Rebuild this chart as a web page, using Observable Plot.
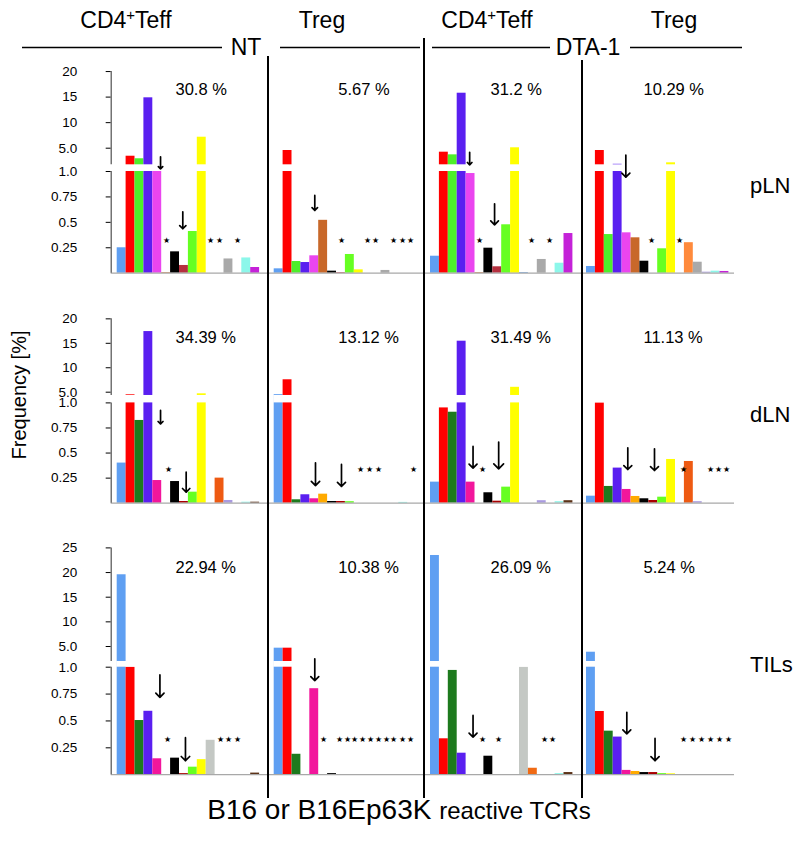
<!DOCTYPE html>
<html><head><meta charset="utf-8">
<script src="https://cdn.jsdelivr.net/npm/d3@7"></script>
<script src="https://cdn.jsdelivr.net/npm/@observablehq/plot@0.6"></script>
<style>
body{margin:0;background:#fff;}
#fig{position:relative;width:798px;height:849px;overflow:hidden;background:#fff;font-family:"Liberation Sans",Arial,sans-serif;}
</style></head>
<body><div id="fig"></div>
<script>
// ---------------- DATA ----------------
const groups = ["NT", "DTA-1"];
const cellTypes = ["CD4", "Treg", "CD4", "Treg"];
const tissues = ["pLN", "dLN", "TILs"];
const yTitle = "Frequency [%]";
const footerBig = "B16 or B16Ep63K";
const footerSmall = "reactive TCRs";

// frequency (%) of the 16 TCR clones, per panel
const pLN_NT_Teff  = [0.25, 3.43, 2.93, 14.86, 1.0, 0.006, 0.21, 0.076, 0.41, 7.15, 0, 0, 0.14, 0, 0.15, 0.056];
const pLN_NT_Treg  = [0.043, 4.55, 0.115, 0.105, 0.171, 0.52, 0.02, 0.006, 0.184, 0.033, 0, 0, 0.027, 0, 0, 0];
const pLN_DTA_Teff = [0.167, 4.22, 3.7, 15.76, 0.98, 0.006, 0.246, 0.063, 0.476, 5.08, 0.006, 0, 0.135, 0, 0.098, 0.39];
const pLN_DTA_Treg = [0.066, 4.55, 0.38, 1.85, 0.397, 0.348, 0.118, 0, 0.24, 2.14, 0, 0.3, 0.108, 0.01, 0.02, 0.017];

const dLN_NT_Teff  = [0.40, 4.47, 0.825, 17.4, 0.226, 0, 0.216, 0.017, 0.11, 4.67, 0, 0.25, 0.027, 0, 0.01, 0.01];
const dLN_NT_Treg  = [4.5, 7.54, 0.034, 0.084, 0.044, 0.09, 0.017, 0.017, 0.015, 0, 0, 0, 0, 0, 0.008, 0];
const dLN_DTA_Teff = [0.21, 0.95, 0.907, 15.43, 0.21, 0, 0.104, 0.02, 0.16, 6.0, 0, 0, 0.025, 0, 0.015, 0.025];
const dLN_DTA_Treg = [0.07, 1.0, 0.167, 0.35, 0.137, 0.067, 0.044, 0.027, 0.06, 0.436, 0, 0.416, 0.015, 0, 0, 0];

const TIL_NT_Teff  = [19.55, 1.0, 0.504, 0.59, 0.148, 0, 0.154, 0.01, 0.07, 0.14, 0.32, 0, 0, 0, 0, 0.015];
const TIL_NT_Treg  = [4.66, 4.66, 0.19, 0, 0.8, 0, 0.01, 0, 0, 0, 0, 0, 0, 0, 0, 0];
const TIL_DTA_Teff = [23.46, 0.334, 0.97, 0.2, 0, 0, 0.172, 0, 0, 0, 1.0, 0.06, 0, 0, 0.01, 0.02];
const TIL_DTA_Treg = [3.84, 0.588, 0.405, 0.35, 0.04, 0.03, 0.02, 0.02, 0.01, 0.008, 0, 0, 0, 0, 0, 0];

// percentage of reactive TCRs per panel
const pLN_pct = ["30.8 %", "5.67 %", "31.2 %", "10.29 %"];
const dLN_pct = ["34.39 %", "13.12 %", "31.49 %", "11.13 %"];
const TIL_pct = ["22.94 %", "10.38 %", "26.09 %", "5.24 %"];

// y tick values and labels per row
const pLN_ticks = [0.25, 0.5, 0.75, 1.0, 5, 10, 15, 20];
const pLN_tickLabels = ["0.25", "0.5", "0.75", "1.0", "5.0", "10", "15", "20"];
const dLN_ticks = [0.25, 0.5, 0.75, 1.0, 5, 10, 15, 20];
const dLN_tickLabels = ["0.25", "0.5", "0.75", "1.0", "5.0", "10", "15", "20"];
const TIL_ticks = [0.25, 0.5, 0.75, 1.0, 5, 10, 15, 20, 25];
const TIL_tickLabels = ["0.25", "0.5", "0.75", "1.0", "5.0", "10", "15", "20", "25"];

// star positions (clone position) marking undetected clones
const pLN_stars = [[5.5, 10.5, 11.5, 13.5], [7.56, 10.45, 11.4, 13.4, 14.4, 15.3], [5.48, 11.4, 13.35], [7.34, 10.45]];
const dLN_stars = [[5.73], [9.7, 10.7, 11.75, 15.6], [5.87], [10.9, 13.9, 14.83, 15.7]];
const TIL_stars = [[5.62, 11.6, 12.55, 13.5], [5.57, 7.33, 8.2, 9.06, 9.96, 10.8, 11.68, 12.58, 13.43, 14.37, 15.3], [5.87, 7.66, 12.79, 13.73], [10.9, 11.9, 12.9, 13.9, 14.9, 15.9]];

// arrows: clone position, value at arrow tip, arrow length
const pLN_arrows = [[{x: 4.87, tip: 1.30, len: 12}, {x: 7.37, tip: 0.437, len: 17}], [{x: 4.56, tip: 0.617, len: 15}], [{x: 4.4, tip: 1.75, len: 12.5}, {x: 7.2, tip: 0.476, len: 21}], [{x: 4.42, tip: 0.944, len: 22}]];
const dLN_arrows = [[{x: 4.87, tip: 0.79, len: 13.5}, {x: 7.75, tip: 0.11, len: 20}], [{x: 4.64, tip: 0.176, len: 22.7}, {x: 7.56, tip: 0.167, len: 22}], [{x: 4.78, tip: 0.35, len: 21.7}, {x: 7.66, tip: 0.343, len: 26.7}], [{x: 4.64, tip: 0.336, len: 21.7}, {x: 7.64, tip: 0.326, len: 21.7}]];
const TIL_arrows = [[{x: 4.8, tip: 0.72, len: 22.4}, {x: 7.67, tip: 0.13, len: 23}], [{x: 4.56, tip: 0.876, len: 21.7}], [{x: 4.78, tip: 0.35, len: 21.7}], [{x: 4.53, tip: 0.38, len: 21.6}, {x: 7.7, tip: 0.13, len: 22.3}]];

// clone colours per row
const pLN_colors = ["#5f9ff2", "#ff0000", "#4def2a", "#5a1ff0", "#ea45ef", "#c8682a", "#000000", "#b5303f", "#66ff22", "#ffff00", "#4a8fdc", "#ff8a3c", "#a9a9a9", "#a99ae0", "#8cf7ea", "#c422d8"];
const dLN_colors = ["#5f9ff2", "#ff0000", "#1d7a1d", "#5a1ff0", "#f2169c", "#ffaa00", "#000000", "#a80000", "#66ff22", "#ffff00", "#4a8fdc", "#ee5a12", "#a99ae0", "#777777", "#8cf7ea", "#5c3318"];
const TIL_colors = ["#5f9ff2", "#ff0000", "#1d7a1d", "#5a1ff0", "#f2169c", "#ffaa00", "#000000", "#a80000", "#66ff22", "#ffff00", "#c4c8c4", "#f06a14", "#a99ae0", "#777777", "#8cf7ea", "#5c3318"];

// ---------------- LAYOUT ----------------
const LAYOUT = {
  colLeft: [0, 268, 424, 582],
  colWidth: [268, 156, 158, 163],
  colMarginRight: [0, 0, 0, 11],
  barStart: [116.7, 273.7, 430, 586],
  barW: 8.9,
  axisX: 110.7,
  pctX: [6.55, 7.2, 6.74, 6.4],
  rows: [
    {top: 55, height: 225, base: 272.7, lowerPx: 101.7, y5: 147.7, upperPx: 5.11, uMin: 1.75, uMax: 20, starY: 0.319, pctY: 16.45, labelY: 193.3},
    {top: 290, height: 220, base: 502.7, lowerPx: 100.3, y5: 391.7, upperPx: 4.89, uMin: 4.33, uMax: 20, starY: 0.333, pctY: 16.08, labelY: 422.3},
    {top: 520, height: 262, base: 774.2, lowerPx: 107.5, y5: 646, upperPx: 4.93, uMin: 1.96, uMax: 25, starY: 0.332, pctY: 20.92, labelY: 671.7}
  ]
};

const ROWS = [
  {values: [pLN_NT_Teff, pLN_NT_Treg, pLN_DTA_Teff, pLN_DTA_Treg], colors: pLN_colors, pct: pLN_pct, stars: pLN_stars, arrows: pLN_arrows, ticks: pLN_ticks, tickLabels: pLN_tickLabels},
  {values: [dLN_NT_Teff, dLN_NT_Treg, dLN_DTA_Teff, dLN_DTA_Treg], colors: dLN_colors, pct: dLN_pct, stars: dLN_stars, arrows: dLN_arrows, ticks: dLN_ticks, tickLabels: dLN_tickLabels},
  {values: [TIL_NT_Teff, TIL_NT_Treg, TIL_DTA_Teff, TIL_DTA_Treg], colors: TIL_colors, pct: TIL_pct, stars: TIL_stars, arrows: TIL_arrows, ticks: TIL_ticks, tickLabels: TIL_tickLabels}
];

const fig = document.getElementById("fig");
const FONT = "'Liberation Sans', Arial, Helvetica, sans-serif";

// broken-axis mapping: frequency -> height above baseline (px units of a linear scale)
function brokenAxis(R) {
  const lowerTop = R.lowerPx;
  const upperBottom = R.base - (R.y5 + (5 - R.uMin) * R.upperPx);
  return v => v <= 1 ? v * R.lowerPx
    : v <= R.uMin ? lowerTop + (v - 1) / (R.uMin - 1) * (upperBottom - lowerTop)
    : R.base - (R.y5 - (v - 5) * R.upperPx);
}

function panel(r, c) {
  const R = LAYOUT.rows[r], row = ROWS[r];
  const f = brokenAxis(R);
  const left = LAYOUT.colLeft[c], width = LAYOUT.colWidth[c];
  const b = R.base - R.top;
  const x0 = LAYOUT.barStart[c] - left;
  const data = row.values[c].map((v, i) => ({i, v, color: row.colors[i]}));
  const axisU = (LAYOUT.axisX - LAYOUT.barStart[0]) / LAYOUT.barW;
  const tickPos = row.ticks.map(f);
  const marks = [
    Plot.rect(data, {x1: d => d.i, x2: d => d.i + 1, y1: () => 0, y2: d => f(d.v), fill: d => d.color}),
    Plot.rect([[1, R.uMin]], {x1: () => -0.05, x2: () => 16.1, y1: d => f(d[0]), y2: d => f(d[1]), fill: "white"}),
    Plot.ruleY([0], {stroke: "#a8a8a8", strokeWidth: 1.2}),
    Plot.text(row.stars[c], {x: d => d, y: () => f(R.starY), text: () => "★", fontSize: 8, fill: "black"}),
    Plot.vector(row.arrows[c], {x: d => d.x, y: d => f(d.tip), length: d => d.len, rotate: 180, anchor: "end", stroke: "black", strokeWidth: 1.7, r: 3.2}),
    Plot.text([row.pct[c]], {x: () => LAYOUT.pctX[c], y: () => f(R.pctY), text: d => d, textAnchor: "start", fontSize: 16.5, fill: "black"})
  ];
  if (c === 0) {
    marks.push(Plot.ruleX([[0, 1], [R.uMin, R.uMax]], {x: () => axisU, y1: d => f(d[0]), y2: d => f(d[1]), stroke: "#505050", strokeWidth: 1.2}));
  }
  const svg = Plot.plot({
    width, height: R.height,
    marginLeft: c === 0 ? LAYOUT.axisX : 0,
    marginRight: LAYOUT.colMarginRight[c],
    marginTop: 0, marginBottom: 0,
    style: {background: "transparent", fontFamily: FONT, fontSize: "13.5px", color: "black", overflow: "visible"},
    x: {domain: [0, 16], range: [x0, x0 + 16 * LAYOUT.barW], axis: null},
    y: {domain: [0, 100], range: [b, b - 100], ticks: tickPos, tickFormat: d => row.tickLabels[tickPos.indexOf(d)],
        tickSize: 5, tickPadding: 29, axis: c === 0 ? "left" : null, label: null},
    color: {type: "identity"},
    length: {type: "identity"},
    marks
  });
  svg.style.position = "absolute";
  svg.style.left = left + "px";
  svg.style.top = R.top + "px";
  svg.style.maxWidth = "none";
  fig.appendChild(svg);
}

for (let r = 0; r < 3; r++) for (let c = 0; c < 4; c++) panel(r, c);

// ---------------- ANNOTATION OVERLAY ----------------
const ov = d3.select(fig).append("svg")
  .attr("width", 798).attr("height", 849)
  .style("position", "absolute").style("left", "0px").style("top", "0px")
  .style("font-family", FONT);

// column headers
const headerX = [126, 322, 487, 674];
cellTypes.forEach((t, i) => {
  const tx = ov.append("text").attr("x", headerX[i]).attr("y", 28).attr("text-anchor", "middle").attr("font-size", 23);
  if (t === "CD4") {
    tx.append("tspan").text("CD4");
    tx.append("tspan").text("+").attr("font-size", 15).attr("dy", -8);
    tx.append("tspan").text("Teff").attr("dy", 8);
  } else tx.text(t);
});
// group headers with rules
const groupX = [246, 588];
groups.forEach((g, i) => {
  ov.append("text").attr("x", groupX[i]).attr("y", 55).attr("text-anchor", "middle").attr("font-size", 23).text(g);
});
const hSegs = [[22, 222], [280, 420], [432, 550], [630, 742]];
hSegs.forEach(([a, b]) => ov.append("line").attr("x1", a).attr("x2", b).attr("y1", 47.5).attr("y2", 47.5).attr("stroke", "black").attr("stroke-width", 1.5));

// vertical dividers
const dividers = [[268, 56, 798], [424, 38, 798], [582, 60, 798]];
dividers.forEach(([x, y1, y2]) => ov.append("line").attr("x1", x).attr("x2", x).attr("y1", y1).attr("y2", y2).attr("stroke", "black").attr("stroke-width", 2));

// row labels
tissues.forEach((t, i) => {
  ov.append("text").attr("x", 750).attr("y", LAYOUT.rows[i].labelY).attr("font-size", 22).text(t);
});

// y title
ov.append("text").attr("transform", "translate(26,395) rotate(-90)").attr("text-anchor", "middle").attr("font-size", 20).text(yTitle);

// footer
const ft = ov.append("text").attr("x", 399).attr("y", 819).attr("text-anchor", "middle");
ft.append("tspan").attr("font-size", 28).text(footerBig + " ");
ft.append("tspan").attr("font-size", 24).text(footerSmall);
</script>
</body></html>
